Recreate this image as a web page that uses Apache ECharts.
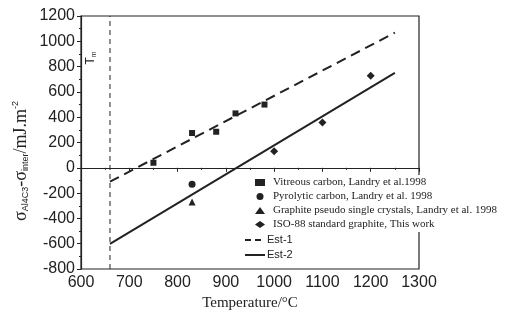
<!DOCTYPE html>
<html><head><meta charset="utf-8">
<script src="https://cdn.jsdelivr.net/npm/echarts@6/dist/echarts.min.js"></script>
<style>html,body{margin:0;padding:0;background:#fff}#c{width:516px;height:323px}</style>
</head><body><div id="c"></div>
<script>
// Data
var vitreous = [[750, 40], [830, 275], [880, 285], [920, 430], [980, 500]];
var pyrolytic = [[830, -130]];
var graphite = [[830, -270]];
var iso88 = [[1000, 130], [1100, 358], [1200, 728]];
var est1 = [[660, -110], [1250, 1068]];
var est2 = [[660, -602], [1250, 750]];
var tm = 660;
var yRange = [-800, 1200];
var xRange = [600, 1300];

var ink = '#222';
var chart = echarts.init(document.getElementById('c'));
var serif = '"Liberation Serif","Times New Roman",serif';
var sans = '"Liberation Sans",Arial,sans-serif';
var plain = function (v) { return String(v); };
chart.setOption({
  animation: false,
  backgroundColor: '#fff',
  grid: {left: 81, right: 97, top: 16, bottom: 54, show: true, borderColor: ink, borderWidth: 1.2, backgroundColor: 'transparent'},
  xAxis: {
    type: 'value', min: xRange[0], max: xRange[1], interval: 100,
    name: 'Temperature/°C', nameLocation: 'middle', nameGap: 26,
    nameTextStyle: {fontFamily: serif, fontSize: 15, color: ink},
    axisLine: {lineStyle: {color: ink, width: 1.2}},
    axisTick: {show: true, length: 4, lineStyle: {color: ink}},
    minorTick: {show: true, splitNumber: 2, length: 2, lineStyle: {color: ink}},
    splitLine: {show: false},
    axisLabel: {fontFamily: sans, fontSize: 16, color: ink, margin: 6, formatter: plain}
  },
  yAxis: {
    type: 'value', min: yRange[0], max: yRange[1], interval: 200,
    axisLine: {lineStyle: {color: ink, width: 1.2}},
    axisTick: {show: true, length: 4, lineStyle: {color: ink}},
    minorTick: {show: true, splitNumber: 2, length: 2, lineStyle: {color: ink}},
    splitLine: {show: false},
    axisLabel: {fontFamily: sans, fontSize: 16, color: ink, margin: 6, formatter: plain}
  },
  legend: [{
    data: ['Vitreous carbon, Landry et al.1998', 'Pyrolytic carbon, Landry et al. 1998', 'Graphite pseudo single crystals, Landry et al. 1998', 'ISO-88 standard graphite, This work'],
    orient: 'vertical', left: 253, top: 175, itemWidth: 10, itemHeight: 7, itemGap: 3,
    backgroundColor: '#fff', padding: [2, 2, 2, 2],
    textStyle: {fontFamily: serif, fontSize: 11, color: ink, padding: [0, 0, 0, 3]}
  }],
  graphic: [
    {type: 'rect', left: 240, top: 232, shape: {width: 60, height: 30}, style: {fill: '#fff'}, z: 10},
    {type: 'line', shape: {x1: 245, y1: 240, x2: 265, y2: 240}, style: {stroke: ink, lineWidth: 2, lineDash: [6, 4]}, z: 11},
    {type: 'text', x: 267, y: 240, style: {text: 'Est-1', font: '11px ' + sans, fill: ink, textVerticalAlign: 'middle'}, z: 11},
    {type: 'line', shape: {x1: 245, y1: 255, x2: 265, y2: 255}, style: {stroke: ink, lineWidth: 2}, z: 11},
    {type: 'text', x: 267, y: 255, style: {text: 'Est-2', font: '11px ' + sans, fill: ink, textVerticalAlign: 'middle'}, z: 11},
    {
      type: 'text', x: 21, y: 161, rotation: Math.PI / 2,
      style: {
        text: '{s|σ}{sub|Al4C3}{s|-σ}{sub|inter}{s|/mJ.m}{sup|-2}',
        textAlign: 'center', textVerticalAlign: 'middle',
        rich: {
          s: {fontFamily: serif, fontSize: 18, fill: ink},
          sub: {fontFamily: sans, fontSize: 9, fill: ink, verticalAlign: 'bottom', padding: [10, 0, 0, 0]},
          sup: {fontFamily: sans, fontSize: 9, fill: ink, verticalAlign: 'top', padding: [0, 0, 10, 0]}
        }
      }
    },
    {
      type: 'text', x: 91, y: 58, rotation: Math.PI / 2,
      style: {
        text: '{t|T}{m|m}', textAlign: 'center', textVerticalAlign: 'middle',
        rich: {t: {fontFamily: sans, fontSize: 12, fill: ink}, m: {fontFamily: sans, fontSize: 7, fill: ink, verticalAlign: 'bottom', padding: [6, 0, 0, 0]}}
      }
    }
  ],
  series: [
    {name: 'Tm', type: 'line', data: [[tm, yRange[0]], [tm, yRange[1]]], symbol: 'none', lineStyle: {color: ink, width: 1, type: [5, 4]}, silent: true, z: 1},
    {name: 'Est-1', type: 'line', data: est1, symbol: 'none', itemStyle: {color: ink}, lineStyle: {color: ink, width: 2, type: [10, 6]}},
    {name: 'Est-2', type: 'line', data: est2, symbol: 'none', itemStyle: {color: ink}, lineStyle: {color: ink, width: 2}},
    {name: 'Vitreous carbon, Landry et al.1998', type: 'scatter', data: vitreous, symbol: 'rect', symbolSize: 6, itemStyle: {color: ink, opacity: 1}, z: 5},
    {name: 'Pyrolytic carbon, Landry et al. 1998', type: 'scatter', data: pyrolytic, symbol: 'circle', symbolSize: 7, itemStyle: {color: ink, opacity: 1}, z: 5},
    {name: 'Graphite pseudo single crystals, Landry et al. 1998', type: 'scatter', data: graphite, symbol: 'triangle', symbolSize: 7, itemStyle: {color: ink, opacity: 1}, z: 5},
    {name: 'ISO-88 standard graphite, This work', type: 'scatter', data: iso88, symbol: 'diamond', symbolSize: 8, itemStyle: {color: ink, opacity: 1}, z: 5}
  ]
});
</script></body></html>
